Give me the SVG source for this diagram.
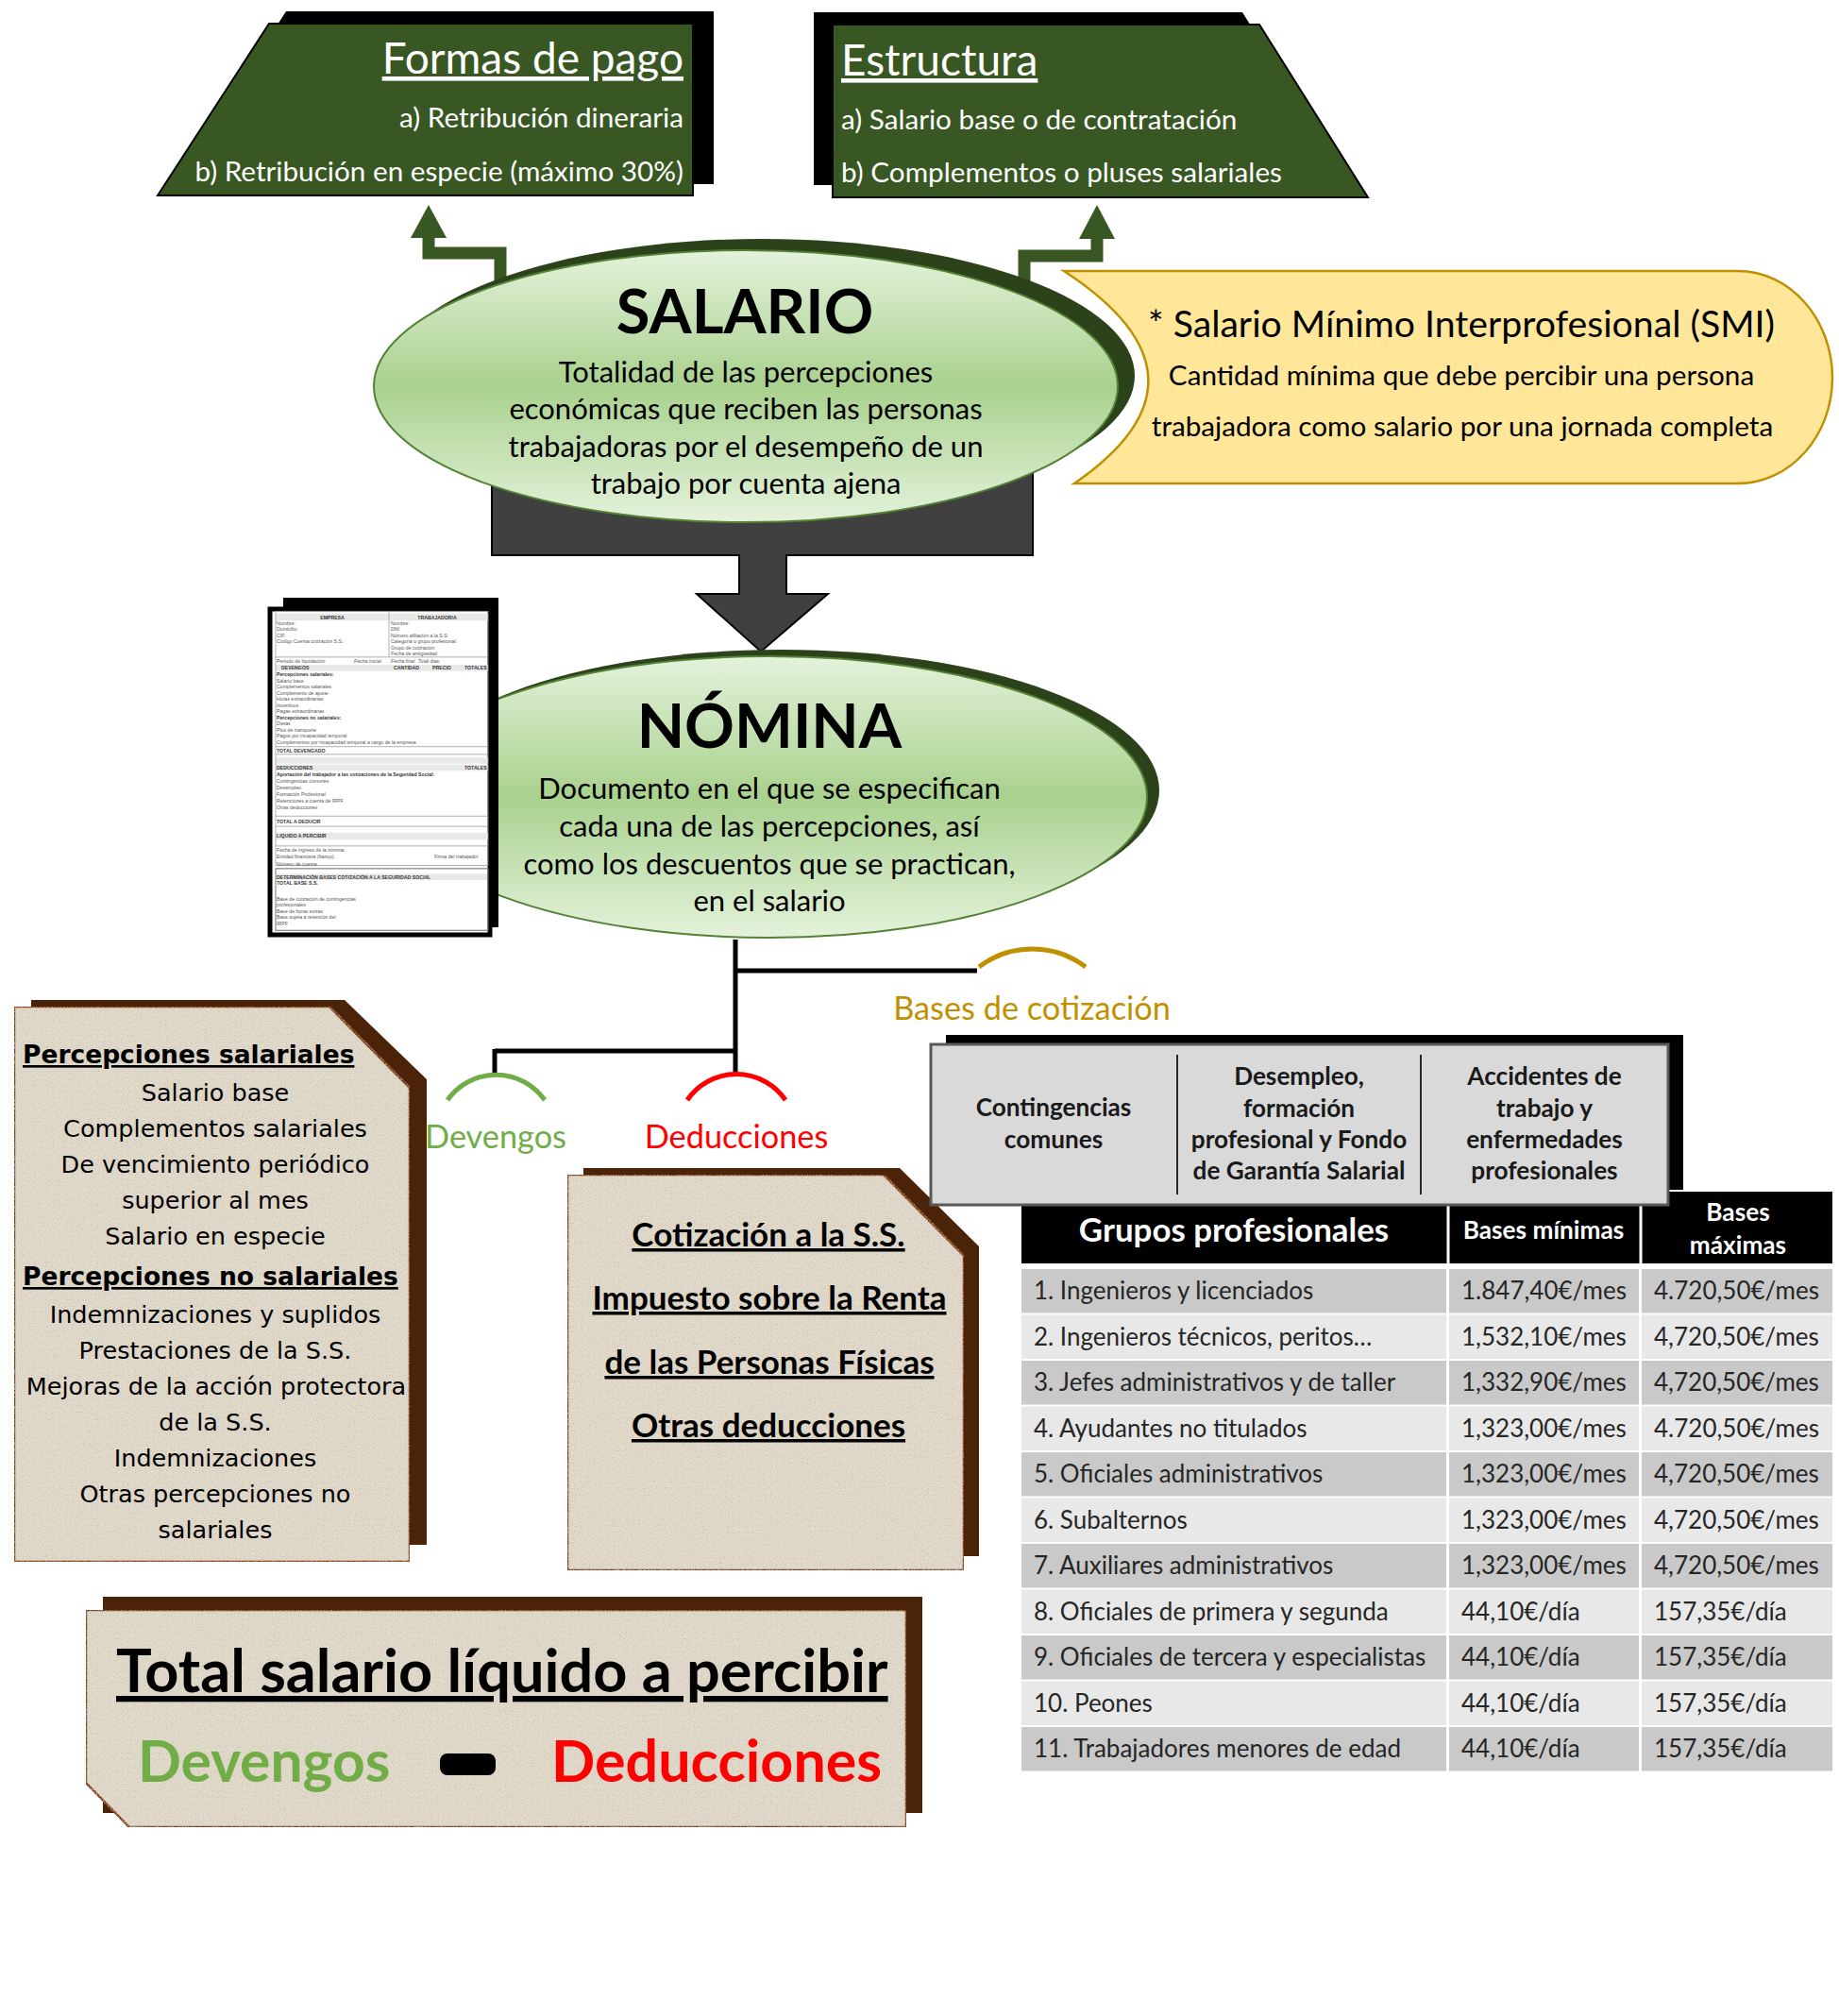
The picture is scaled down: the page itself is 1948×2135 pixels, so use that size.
<svg xmlns="http://www.w3.org/2000/svg" width="1948" height="2135" viewBox="0 0 1948 2135">
  <defs>
    <style>
      text { font-family: Lato, "Liberation Sans", sans-serif; }
      .b { font-weight: 700; }
      .u { text-decoration: underline; }
      .mid { text-anchor: middle; }
      .end { text-anchor: end; }
      .wt { fill: #ffffff; }
      .dk { fill: #000000; }
      .gbox { fill: #385723; stroke: #000000; stroke-width: 2; }
      .shadowblk { fill: #000000; }
      .ell { fill: url(#ellGrad); stroke: #548235; stroke-width: 2; }
      .ellsh { fill: #2C421B; }
      .paper { fill: #E2DACB; stroke: #843C0C; stroke-width: 2.5; filter: url(#paperGrain); }
      .papersh { fill: #4A2309; }
      .verd text { font-family: "DejaVu Sans", Verdana, sans-serif; }
      .row1 { fill: #C9C9C9; }
      .row2 { fill: #E8E8E8; }
      .cell { font-size: 26px; fill: #262626; }
      .slip text { font-family: "Liberation Sans", Arial, sans-serif; font-size: 5.2px; fill: #555555; }
      .slip text.sb { fill: #333333; font-weight: 700; }
      .slipband { fill: #E8E8E8; }
      .slipline { stroke: #A0A0A0; stroke-width: 0.8; fill: none; }
      .conn { stroke: #000000; stroke-width: 5; fill: none; }
      .garrow { stroke: #385723; stroke-width: 13; fill: none; }
    </style>
    <linearGradient id="ellGrad" x1="0" y1="0" x2="0" y2="1">
      <stop offset="0" stop-color="#E4F2DB"/>
      <stop offset="0.5" stop-color="#A9D18E"/>
      <stop offset="1" stop-color="#E4F2DB"/>
    </linearGradient>
    <filter id="paperGrain" x="0" y="0" width="1" height="1">
      <feTurbulence type="fractalNoise" baseFrequency="0.85" numOctaves="1" seed="7" result="noise"/>
      <feColorMatrix in="noise" type="matrix" values="0 0 0 0 0.55  0 0 0 0 0.50  0 0 0 0 0.44  0 0 0 -2.6 1.35" result="spk"/>
      <feComposite in="spk" in2="SourceAlpha" operator="in" result="spk2"/>
      <feMerge>
        <feMergeNode in="SourceGraphic"/>
        <feMergeNode in="spk2"/>
      </feMerge>
    </filter>
  </defs>

  <rect x="0" y="0" width="1948" height="2135" fill="#ffffff"/>

  <!-- bent arrows from SALARIO up to the two green boxes, and the tree below NÓMINA -->
  <g id="connectors">
    <g id="arrow-formas">
      <path class="garrow" d="M530,305 V268 H454 V248"/>
      <polygon points="435,252 473,252 454,217" fill="#385723"/>
    </g>
    <g id="arrow-estructura">
      <path class="garrow" d="M1085,305 V271 H1162 V248"/>
      <polygon points="1143,253 1181,253 1162,217" fill="#385723"/>
    </g>
    <g id="tree">
      <path class="conn" d="M779,995 V1137"/>
      <path class="conn" d="M779,1028 H1035"/>
      <path class="conn" d="M524,1113 H779"/>
      <path class="conn" d="M524,1111 V1137"/>
    </g>
    <path id="arc-bases" d="M1037,1024 A94,94 0 0 1 1150,1024" fill="none" stroke="#BF9000" stroke-width="5"/>
    <path id="arc-devengos" d="M474,1165 A63,63 0 0 1 577,1165" fill="none" stroke="#70AD47" stroke-width="5"/>
    <path id="arc-deducciones" d="M728,1165 A63,63 0 0 1 832,1165" fill="none" stroke="#FF0000" stroke-width="5"/>
  </g>

  <!-- Formas de pago -->
  <g id="formas-de-pago">
    <polygon class="shadowblk" points="303,12 756,12 756,195 185,195"/>
    <polygon class="gbox" points="285,25 734,25 734,207 167,207"/>
    <text class="wt u end" x="724" y="78" font-size="46">Formas de pago</text>
    <text class="wt end" x="724" y="135" font-size="29.7">a) Retribución dineraria</text>
    <text class="wt end" x="724" y="192" font-size="29.7">b) Retribución en especie (máximo 30%)</text>
  </g>

  <!-- Estructura -->
  <g id="estructura">
    <polygon class="shadowblk" points="862,13 1316,13 1431,196 862,196"/>
    <polygon class="gbox" points="882,26 1334,26 1449,209 882,209"/>
    <text class="wt u" x="891" y="80" font-size="46">Estructura</text>
    <text class="wt" x="891" y="137" font-size="29.7">a) Salario base o de contratación</text>
    <text class="wt" x="891" y="193" font-size="29.7">b) Complementos o pluses salariales</text>
  </g>

  <!-- dark down-arrow callout linking SALARIO to NÓMINA -->
  <g id="down-arrow">
    <path d="M521,330 H1094 V588 H833 V629 H877 L806,690 L738,629 H783 V588 H521 Z" fill="#404040" stroke="#000000" stroke-width="2"/>
  </g>

  <!-- SALARIO -->
  <g id="salario">
    <ellipse class="ellsh" cx="807" cy="398" rx="395" ry="145"/>
    <ellipse class="ell" cx="790" cy="409" rx="394" ry="144"/>
    <text class="dk b mid" x="789" y="353" font-size="65">SALARIO</text>
    <text class="dk mid" x="790" y="405" font-size="31">Totalidad de las percepciones</text>
    <text class="dk mid" x="790" y="444" font-size="31">económicas que reciben las personas</text>
    <text class="dk mid" x="790" y="484" font-size="31">trabajadoras por el desempeño de un</text>
    <text class="dk mid" x="790" y="523" font-size="31">trabajo por cuenta ajena</text>
  </g>

  <!-- Salario Mínimo Interprofesional -->
  <g id="smi">
    <path d="M1127,287 H1841 C1896,287 1941,338 1941,400 C1941,462 1896,512 1841,512 H1138 Q1300,400 1127,287 Z" fill="#FFE699" stroke="#BF9000" stroke-width="2.5"/>
    <text class="dk mid" x="1548" y="357" font-size="39.2">* Salario Mínimo Interprofesional (SMI)</text>
    <text class="dk mid" x="1548" y="408" font-size="29.7">Cantidad mínima que debe percibir una persona</text>
    <text class="dk mid" x="1549" y="462" font-size="29.7">trabajadora como salario por una jornada completa</text>
  </g>

  <!-- NÓMINA -->
  <g id="nomina">
    <ellipse class="ellsh" cx="828" cy="837" rx="400" ry="149"/>
    <ellipse class="ell" cx="815" cy="844" rx="400" ry="149"/>
    <text class="dk b mid" x="815" y="792" font-size="65.5">NÓMINA</text>
    <text class="dk mid" x="815" y="846" font-size="31">Documento en el que se especifican</text>
    <text class="dk mid" x="815" y="886" font-size="31">cada una de las percepciones, así</text>
    <text class="dk mid" x="815" y="926" font-size="31">como los descuentos que se practican,</text>
    <text class="dk mid" x="815" y="965" font-size="31">en el salario</text>
  </g>

  <!-- payslip sheet -->
  <g id="payslip">
    <rect x="300" y="633" width="228" height="349" fill="#000000"/>
    <rect x="286" y="645" width="233" height="345" fill="#ffffff" stroke="#000000" stroke-width="5"/>
    <g class="slip" transform="translate(0,655) scale(1,1.09) translate(0,-655)">
      <rect class="slipband" x="292" y="650" width="225" height="7"/>
      <rect class="slipband" x="292" y="700" width="225" height="6"/>
      <rect class="slipband" x="292" y="790" width="225" height="6"/>
      <rect class="slipband" x="292" y="797" width="225" height="6"/>
      <rect class="slipband" x="292" y="863" width="225" height="7"/>
      <rect class="slipband" x="293" y="903" width="223" height="6"/>
      <rect class="slipline" x="292" y="648" width="225" height="247"/>
      <rect x="292" y="898" width="225" height="60" fill="none" stroke="#777777" stroke-width="1"/>
      <path class="slipline" d="M412,648 V692 M292,692.5 H517 M292,779.5 H517 M292,787 H517 M292,847 H517 M292,857 H517 M292,876 H517"/>
      <text class="sb" x="352" y="655.5" text-anchor="middle">EMPRESA</text>
      <text class="sb" x="463" y="655.5" text-anchor="middle">TRABAJADOR/A</text>
      <text x="293" y="661">Nombre:</text>
      <text x="293" y="667">Domicilio:</text>
      <text x="293" y="673">CIF:</text>
      <text x="293" y="679">Código Cuenta cotización S.S.:</text>
      <text x="414" y="661">Nombre:</text>
      <text x="414" y="667">DNI:</text>
      <text x="414" y="673">Número afiliación a la S.S:</text>
      <text x="414" y="679">Categoría o grupo profesional:</text>
      <text x="414" y="685">Grupo de cotización:</text>
      <text x="414" y="690.5">Fecha de antigüedad:</text>
      <text x="293" y="698">Periodo de liquidación:</text>
      <text x="375" y="698" font-style="italic">Fecha inicial</text>
      <text x="414" y="698" font-style="italic">Fecha final</text>
      <text x="443" y="698">Total días:</text>
      <text class="sb" x="298" y="704.5">DEVENGOS</text>
      <text class="sb" x="417" y="704.5">CANTIDAD</text>
      <text class="sb" x="458" y="704.5">PRECIO</text>
      <text class="sb" x="492" y="704.5">TOTALES</text>
      <text class="sb" x="293" y="711">Percepciones salariales:</text>
      <text x="293" y="717">Salario base</text>
      <text x="293" y="723">Complementos salariales</text>
      <text x="293" y="729">Complemento de ajuste</text>
      <text x="293" y="735">Horas extraordinarias</text>
      <text x="293" y="741">Incentivos</text>
      <text x="293" y="747">Pagas extraordinarias</text>
      <text class="sb" x="293" y="753">Percepciones no salariales:</text>
      <text x="293" y="759">Dietas</text>
      <text x="293" y="765">Plus de transporte</text>
      <text x="293" y="771">Pagos por incapacidad temporal</text>
      <text x="293" y="777">Complementos por incapacidad temporal a cargo de la empresa</text>
      <text class="sb" x="293" y="785">TOTAL DEVENGADO</text>
      <text class="sb" x="293" y="801.5">DEDUCCIONES</text>
      <text class="sb" x="492" y="801.5">TOTALES</text>
      <text class="sb" x="293" y="808">Aportación del trabajador a las cotizaciones de la Seguridad Social:</text>
      <text x="293" y="814.5">Contingencias comunes</text>
      <text x="293" y="821">Desempleo</text>
      <text x="293" y="827.5">Formación Profesional</text>
      <text x="293" y="834">Retenciones a cuenta de IRPF</text>
      <text x="293" y="840.5">Otras deducciones</text>
      <text class="sb" x="293" y="854">TOTAL A DEDUCIR</text>
      <text class="sb" x="293" y="868">LIQUIDO A PERCIBIR</text>
      <text x="293" y="882">Fecha de ingreso de la nómina:</text>
      <text x="293" y="888.5">Entidad financiera (banco):</text>
      <text x="460" y="888.5">Firma del trabajador</text>
      <text x="293" y="895">Número de cuenta</text>
      <text class="sb" x="293" y="908">DETERMINACIÓN BASES COTIZACIÓN A LA SEGURIDAD SOCIAL</text>
      <text class="sb" x="293" y="914">TOTAL BASE S.S.</text>
      <text x="293" y="929">Base de cotización de contingencias</text>
      <text x="293" y="935">profesionales</text>
      <text x="293" y="941">Base de horas extras</text>
      <text x="293" y="947">Base sujeta a retención del</text>
      <text x="293" y="953">IRPF</text>
    </g>
  </g>

  <!-- branch labels -->
  <g id="label-bases">
    <text class="mid" x="1093" y="1080" font-size="34.3" fill="#BF9000">Bases de cotización</text>
  </g>
  <g id="label-devengos">
    <text class="mid" x="525" y="1216" font-size="34.3" fill="#70AD47">Devengos</text>
  </g>
  <g id="label-deducciones">
    <text class="mid" x="780" y="1216" font-size="34.3" fill="#FF0000">Deducciones</text>
  </g>

  <!-- Devengos detail -->
  <g id="percepciones">
    <path class="papersh" d="M33,1059 H365 L452,1143 V1636 H33 Z"/>
    <path class="paper" d="M15,1066 H349 L434,1152 V1654 H15 Z"/>
    <g class="verd" font-size="25.5" fill="#000000">
      <text class="u" x="24" y="1126" font-weight="700" font-size="26.5">Percepciones salariales</text>
      <text class="mid" x="228" y="1166">Salario base</text>
      <text class="mid" x="228" y="1204">Complementos salariales</text>
      <text class="mid" x="228" y="1242">De vencimiento periódico</text>
      <text class="mid" x="228" y="1280">superior al mes</text>
      <text class="mid" x="228" y="1318">Salario en especie</text>
      <text class="u" x="24" y="1361" font-weight="700" font-size="26.5">Percepciones no salariales</text>
      <text class="mid" x="228" y="1401">Indemnizaciones y suplidos</text>
      <text class="mid" x="228" y="1439">Prestaciones de la S.S.</text>
      <text class="mid" x="229" y="1477">Mejoras de la acción protectora</text>
      <text class="mid" x="228" y="1515">de la S.S.</text>
      <text class="mid" x="228" y="1553">Indemnizaciones</text>
      <text class="mid" x="228" y="1591">Otras percepciones no</text>
      <text class="mid" x="228" y="1629">salariales</text>
    </g>
  </g>

  <!-- Deducciones detail -->
  <g id="deducciones">
    <path class="papersh" d="M618,1237 H953 L1037,1320 V1648 H618 Z"/>
    <path class="paper" d="M601,1244 H936 L1021,1330 V1663 H601 Z"/>
    <g font-size="35" font-weight="700" fill="#000000">
      <text class="mid u" x="814" y="1320">Cotización a la S.S.</text>
      <text class="mid u" x="815" y="1387">Impuesto sobre la Renta</text>
      <text class="mid u" x="815" y="1455">de las Personas Físicas</text>
      <text class="mid u" x="814" y="1522">Otras deducciones</text>
    </g>
  </g>

  <!-- Grupos profesionales table -->
  <g id="grupos">
    <rect x="1082" y="1262" width="859" height="76" fill="#000000"/>
    <path d="M1534,1262 V1338 M1738,1262 V1338" stroke="#ffffff" stroke-width="3"/>
    <text class="wt b mid" x="1307" y="1315" font-size="34.9">Grupos profesionales</text>
    <text class="wt b mid" x="1635" y="1312" font-size="26.2">Bases mínimas</text>
    <text class="wt b mid" x="1841" y="1293" font-size="26.2">Bases</text>
    <text class="wt b mid" x="1841" y="1328" font-size="26.2">máximas</text>
    <g id="row-1">
      <rect class="row1" x="1082" y="1344" width="450" height="46.5"/><rect class="row1" x="1535" y="1344" width="201" height="46.5"/><rect class="row1" x="1739" y="1344" width="202" height="46.5"/>
      <text class="cell" x="1095" y="1376">1. Ingenieros y licenciados</text><text class="cell" x="1548" y="1376">1.847,40€/mes</text><text class="cell" x="1752" y="1376">4.720,50€/mes</text>
    </g>
    <g id="row-2">
      <rect class="row2" x="1082" y="1392.5" width="450" height="46.5"/><rect class="row2" x="1535" y="1392.5" width="201" height="46.5"/><rect class="row2" x="1739" y="1392.5" width="202" height="46.5"/>
      <text class="cell" x="1095" y="1424.5">2. Ingenieros técnicos, peritos…</text><text class="cell" x="1548" y="1424.5">1,532,10€/mes</text><text class="cell" x="1752" y="1424.5">4,720,50€/mes</text>
    </g>
    <g id="row-3">
      <rect class="row1" x="1082" y="1441" width="450" height="46.5"/><rect class="row1" x="1535" y="1441" width="201" height="46.5"/><rect class="row1" x="1739" y="1441" width="202" height="46.5"/>
      <text class="cell" x="1095" y="1473">3. Jefes administrativos y de taller</text><text class="cell" x="1548" y="1473">1,332,90€/mes</text><text class="cell" x="1752" y="1473">4,720,50€/mes</text>
    </g>
    <g id="row-4">
      <rect class="row2" x="1082" y="1489.5" width="450" height="46.5"/><rect class="row2" x="1535" y="1489.5" width="201" height="46.5"/><rect class="row2" x="1739" y="1489.5" width="202" height="46.5"/>
      <text class="cell" x="1095" y="1521.5">4. Ayudantes no titulados</text><text class="cell" x="1548" y="1521.5">1,323,00€/mes</text><text class="cell" x="1752" y="1521.5">4.720,50€/mes</text>
    </g>
    <g id="row-5">
      <rect class="row1" x="1082" y="1538" width="450" height="46.5"/><rect class="row1" x="1535" y="1538" width="201" height="46.5"/><rect class="row1" x="1739" y="1538" width="202" height="46.5"/>
      <text class="cell" x="1095" y="1570">5. Oficiales administrativos</text><text class="cell" x="1548" y="1570">1,323,00€/mes</text><text class="cell" x="1752" y="1570">4,720,50€/mes</text>
    </g>
    <g id="row-6">
      <rect class="row2" x="1082" y="1586.5" width="450" height="46.5"/><rect class="row2" x="1535" y="1586.5" width="201" height="46.5"/><rect class="row2" x="1739" y="1586.5" width="202" height="46.5"/>
      <text class="cell" x="1095" y="1618.5">6. Subalternos</text><text class="cell" x="1548" y="1618.5">1,323,00€/mes</text><text class="cell" x="1752" y="1618.5">4,720,50€/mes</text>
    </g>
    <g id="row-7">
      <rect class="row1" x="1082" y="1635" width="450" height="46.5"/><rect class="row1" x="1535" y="1635" width="201" height="46.5"/><rect class="row1" x="1739" y="1635" width="202" height="46.5"/>
      <text class="cell" x="1095" y="1667">7. Auxiliares administrativos</text><text class="cell" x="1548" y="1667">1,323,00€/mes</text><text class="cell" x="1752" y="1667">4,720,50€/mes</text>
    </g>
    <g id="row-8">
      <rect class="row2" x="1082" y="1683.5" width="450" height="46.5"/><rect class="row2" x="1535" y="1683.5" width="201" height="46.5"/><rect class="row2" x="1739" y="1683.5" width="202" height="46.5"/>
      <text class="cell" x="1095" y="1715.5">8. Oficiales de primera y segunda</text><text class="cell" x="1548" y="1715.5">44,10€/día</text><text class="cell" x="1752" y="1715.5">157,35€/día</text>
    </g>
    <g id="row-9">
      <rect class="row1" x="1082" y="1732" width="450" height="46.5"/><rect class="row1" x="1535" y="1732" width="201" height="46.5"/><rect class="row1" x="1739" y="1732" width="202" height="46.5"/>
      <text class="cell" x="1095" y="1764">9. Oficiales de tercera y especialistas</text><text class="cell" x="1548" y="1764">44,10€/día</text><text class="cell" x="1752" y="1764">157,35€/día</text>
    </g>
    <g id="row-10">
      <rect class="row2" x="1082" y="1780.5" width="450" height="46.5"/><rect class="row2" x="1535" y="1780.5" width="201" height="46.5"/><rect class="row2" x="1739" y="1780.5" width="202" height="46.5"/>
      <text class="cell" x="1095" y="1812.5">10. Peones</text><text class="cell" x="1548" y="1812.5">44,10€/día</text><text class="cell" x="1752" y="1812.5">157,35€/día</text>
    </g>
    <g id="row-11">
      <rect class="row1" x="1082" y="1829" width="450" height="46.5"/><rect class="row1" x="1535" y="1829" width="201" height="46.5"/><rect class="row1" x="1739" y="1829" width="202" height="46.5"/>
      <text class="cell" x="1095" y="1861">11. Trabajadores menores de edad</text><text class="cell" x="1548" y="1861">44,10€/día</text><text class="cell" x="1752" y="1861">157,35€/día</text>
    </g>
  </g>

  <!-- Bases de cotización categories -->
  <g id="bases-cotizacion">
    <rect x="1002" y="1096" width="781" height="164" fill="#000000"/>
    <rect x="986" y="1106" width="781" height="170" fill="#D9D9D9" stroke="#595959" stroke-width="3"/>
    <path d="M1247,1117 V1265 M1505,1117 V1265" stroke="#262626" stroke-width="2"/>
    <g font-size="26.2" font-weight="700" fill="#1A1A1A">
      <text class="mid" x="1116" y="1182">Contingencias</text>
      <text class="mid" x="1116" y="1216">comunes</text>
      <text class="mid" x="1376" y="1149">Desempleo,</text>
      <text class="mid" x="1376" y="1183">formación</text>
      <text class="mid" x="1376" y="1216">profesional y Fondo</text>
      <text class="mid" x="1376" y="1249">de Garantía Salarial</text>
      <text class="mid" x="1636" y="1149">Accidentes de</text>
      <text class="mid" x="1636" y="1183">trabajo y</text>
      <text class="mid" x="1636" y="1216">enfermedades</text>
      <text class="mid" x="1636" y="1249">profesionales</text>
    </g>
  </g>

  <!-- Total salario líquido -->
  <g id="total-liquido">
    <rect class="papersh" x="109" y="1691" width="868" height="229"/>
    <path class="paper" d="M91,1705 H960 V1935 H137 L91,1888 Z"/>
    <text class="b u" x="123" y="1792" font-size="63" fill="#000000">Total salario líquido a percibir</text>
    <text class="b" x="146" y="1887" font-size="60.5" fill="#70AD47">Devengos</text>
    <rect x="466" y="1857" width="59" height="23" rx="8" fill="#000000"/>
    <text class="b" x="584" y="1887" font-size="61" fill="#FF0000">Deducciones</text>
  </g>
</svg>
